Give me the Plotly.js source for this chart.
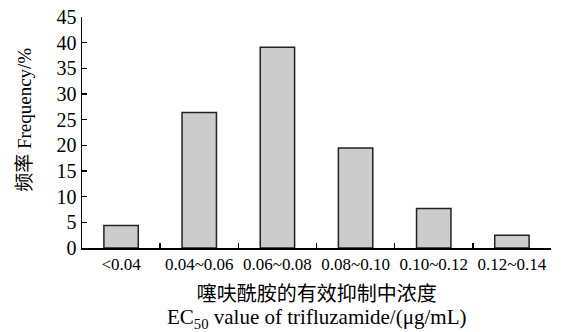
<!DOCTYPE html>
<html>
<head>
<meta charset="utf-8">
<script src="https://cdn.plot.ly/plotly-3.0.1.min.js"></script>
<style>html,body{margin:0;padding:0;background:#fff;}#chart{width:578px;height:332px;}</style>
</head>
<body>
<div id="chart"></div>
<script>
const categories = ["<0.04", "0.04~0.06", "0.06~0.08", "0.08~0.10", "0.10~0.12", "0.12~0.14"];
const frequency = [4.4, 26.4, 39.1, 19.5, 7.7, 2.5];
const yTicks = [0, 5, 10, 15, 20, 25, 30, 35, 40, 45];
const xTitleCN = "噻呋酰胺的有效抑制中浓度";
const xTitleEN = "EC<sub>50</sub> value of trifluzamide/(μg/mL)";
const yTitle = "频率 Frequency/%";

const FONT = "'Liberation Serif', 'Times New Roman', 'Noto Sans CJK SC', serif";

const trace = {
  type: "bar",
  x: categories,
  y: frequency,
  marker: {color: "#cccccc", line: {color: "#222222", width: 1.5}},
  hoverinfo: "x+y"
};

const layout = {
  width: 578, height: 332,
  margin: {l: 82, r: 27, t: 17, b: 84},
  paper_bgcolor: "#ffffff", plot_bgcolor: "#ffffff",
  font: {family: FONT, color: "#000000", size: 18},
  showlegend: false,
  bargap: 0.56,
  xaxis: {
    type: "category",
    showline: true, linecolor: "#000000", linewidth: 1.5,
    ticks: "inside", tickson: "boundaries", ticklen: 5, tickcolor: "#000000", tickwidth: 1.5,
    showgrid: false, zeroline: false, tickangle: 0,
    tickfont: {family: FONT, size: 17}
  },
  yaxis: {
    range: [0, 45], tickvals: yTicks,
    showline: true, linecolor: "#000000", linewidth: 1.5,
    ticks: "inside", ticklen: 5, tickcolor: "#000000", tickwidth: 1.5,
    showgrid: false, zeroline: false,
    tickfont: {family: FONT, size: 20}
  },
  annotations: [
    {text: "<span style=\"font-family:'Noto Sans CJK SC',sans-serif;font-size:20px\">" + xTitleCN + "</span><br>" +
           "<span style=\"font-size:21px\">" + xTitleEN + "</span>",
     xref: "paper", yref: "paper", x: 0.5, y: -0.247, xanchor: "center", yanchor: "middle",
     showarrow: false, borderpad: 0, font: {family: FONT, size: 18}},
    {text: yTitle, xref: "paper", yref: "paper", x: -0.124, y: 0.554, xanchor: "center", yanchor: "middle",
     textangle: -90, showarrow: false, font: {family: FONT, size: 19}}
  ]
};

Plotly.newPlot("chart", [trace], layout, {displayModeBar: false, staticPlot: true});
</script>
</body>
</html>
